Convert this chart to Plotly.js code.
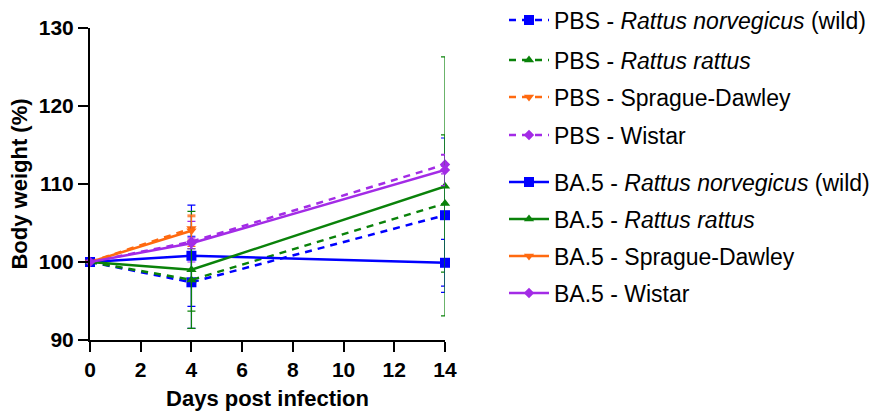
<!DOCTYPE html>
<html>
<head>
<meta charset="utf-8">
<script src="https://cdn.plot.ly/plotly-3.0.1.min.js"></script>
<style>html,body{margin:0;padding:0;background:#fff;}#chart{width:873px;height:413px;}</style>
</head>
<body>
<div id="chart"></div>
<script>
// ---- data ----
const days = [0, 4, 14];

const pbsNorv    = [100, 97.4, 106.0];
const pbsNorvErr = [0, 5.9, 9.9];
const pbsRat     = [100, 97.7, 107.5];
const pbsRatErr  = [0, 4.0, 8.8];
const pbsSD      = [100, 104.3, null];
const pbsSDErr   = [0, 1.5, null];
const pbsWis     = [100, 102.6, 112.5];
const pbsWisErr  = [0, 2.6, 1.2];

const ba5Norv    = [100, 100.8, 99.9];
const ba5NorvErr = [0, 6.5, 3.0];
const ba5Rat     = [100, 99.0, 109.7];
const ba5RatErr  = [0, 7.5, 16.6];
const ba5SD      = [100, 104.0, null];
const ba5SDErr   = [0, 2.0, null];
const ba5Wis     = [100, 102.4, 111.8];
const ba5WisErr  = [0, 0.7, 2.0];

const names = [
  'PBS - <i>Rattus norvegicus</i> (wild)',
  'PBS - <i>Rattus rattus</i>',
  'PBS - Sprague-Dawley',
  'PBS - Wistar',
  'BA.5 - <i>Rattus norvegicus</i> (wild)',
  'BA.5 - <i>Rattus rattus</i>',
  'BA.5 - Sprague-Dawley',
  'BA.5 - Wistar'
];
const yTicks = [90, 100, 110, 120, 130];
const xTicks = [0, 2, 4, 6, 8, 10, 12, 14];

// ---- styles ----
const BLUE = '#0000ff', GREEN = '#0a820a', ORANGE = '#ff6a10', PURPLE = '#a32be6';
const FONT = 'Arial, "Liberation Sans", sans-serif';

function tr(y, err, name, color, symbol, msize, dashed, legendId) {
  return {
    x: days, y: y, name: name, type: 'scatter', mode: 'lines+markers',
    legend: legendId,
    line: {color: color, width: 2.5, dash: dashed ? '7px,6px' : 'solid'},
    marker: {color: color, symbol: symbol, size: msize},
    error_y: {type: 'data', array: err, visible: true, color: color, thickness: 1.2, width: 4},
    cliponaxis: false
  };
}

const data = [
  tr(pbsNorv, pbsNorvErr, names[0], BLUE, 'square', 10, true, 'legend'),
  tr(pbsRat, pbsRatErr, names[1], GREEN, 'triangle-up', 9, true, 'legend2'),
  tr(pbsSD, pbsSDErr, names[2], ORANGE, 'triangle-down', 9, true, 'legend3'),
  tr(pbsWis, pbsWisErr, names[3], PURPLE, 'diamond', 8, true, 'legend4'),
  tr(ba5Norv, ba5NorvErr, names[4], BLUE, 'square', 10, false, 'legend5'),
  tr(ba5Rat, ba5RatErr, names[5], GREEN, 'triangle-up', 9, false, 'legend6'),
  tr(ba5SD, ba5SDErr, names[6], ORANGE, 'triangle-down', 9, false, 'legend7'),
  tr(ba5Wis, ba5WisErr, names[7], PURPLE, 'diamond', 8, false, 'legend8')
];

const L = 90, R = 445, T = 28, B = 340;
const legendY = [20, 60, 97, 135, 182, 219, 256, 293];
const layout = {
  width: 873, height: 413,
  margin: {l: L, r: 873 - R, t: T, b: 413 - B, autoexpand: false},
  paper_bgcolor: '#fff', plot_bgcolor: '#fff',
  font: {family: FONT, color: '#000', size: 20},
  showlegend: true,
  xaxis: {
    range: [0, 14], tickvals: xTicks, ticktext: xTicks.map(String),
    showgrid: false, zeroline: false, showline: true, linecolor: '#000', linewidth: 2,
    ticks: 'outside', ticklen: 10, tickwidth: 2, tickcolor: '#000',
    tickfont: {family: FONT, size: 21, weight: 'bold'},
    title: {text: '<b>Days post infection</b>', font: {family: FONT, size: 22}, standoff: 10}
  },
  yaxis: {
    range: [90, 130], tickvals: yTicks, ticktext: yTicks.map(String),
    showgrid: false, zeroline: false, showline: true, linecolor: '#000', linewidth: 2,
    ticks: 'outside', ticklen: 10, tickwidth: 2, tickcolor: '#000',
    tickfont: {family: FONT, size: 21, weight: 'bold'},
    title: {text: '<b>Body weight (%)</b>', font: {family: FONT, size: 22}, standoff: 5}
  }
};
const legKeys = ['legend','legend2','legend3','legend4','legend5','legend6','legend7','legend8'];
legKeys.forEach((k, i) => {
  layout[k] = {
    x: (504 - L) / (R - L), xanchor: 'left',
    y: (B - legendY[i]) / (B - T), yanchor: 'middle',
    bgcolor: 'rgba(0,0,0,0)', borderwidth: 0,
    font: {family: FONT, size: 23, color: '#000'},
    itemwidth: 40
  };
});

Plotly.newPlot('chart', data, layout, {displayModeBar: false, staticPlot: true});
</script>
</body>
</html>
